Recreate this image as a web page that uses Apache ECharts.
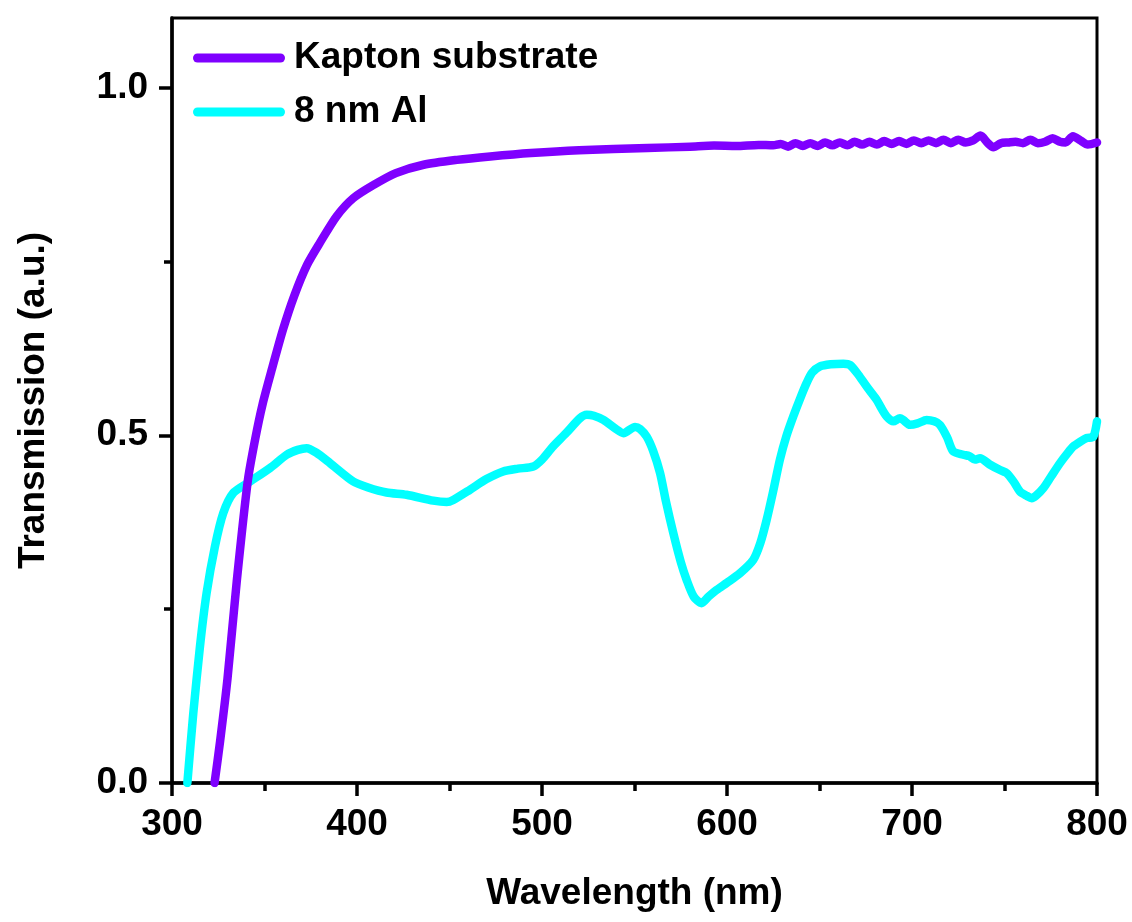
<!DOCTYPE html>
<html>
<head>
<meta charset="utf-8">
<title>Transmission spectra</title>
<script src="https://cdn.jsdelivr.net/npm/echarts@6/dist/echarts.min.js"></script>
<style>
  html, body { margin: 0; padding: 0; background: #ffffff; }
  #chart { width: 1132px; height: 922px; }
</style>
</head>
<body>
<div id="chart"></div>
<script>
// Bare Kapton film: wavelength (nm) and transmission (a.u.)
const kaptonNm = [323, 326, 330, 335, 341, 345, 349, 354, 360, 366, 373, 380, 389, 398, 409, 421, 436, 454, 472, 494, 520, 557, 580, 593, 605, 617, 625,
  629, 633, 637, 641, 645, 649, 653, 657, 661, 665, 669, 673, 677, 681, 685, 689, 693, 697, 701, 705, 709, 713, 717, 721, 725, 729,
  733, 737, 741, 744, 748, 752, 756, 760, 764, 768, 772, 776, 780, 783, 787, 791, 795, 800];
const kaptonT = [0, 0.06, 0.15, 0.29, 0.435, 0.495, 0.545, 0.595, 0.652, 0.70, 0.745, 0.777, 0.815, 0.841, 0.860, 0.877, 0.889, 0.896, 0.901, 0.906, 0.910, 0.913, 0.915, 0.9165, 0.9160, 0.9175, 0.917,
  0.919, 0.915, 0.920, 0.916, 0.920, 0.916, 0.921, 0.917, 0.921, 0.917, 0.922, 0.918, 0.922, 0.918, 0.923, 0.919, 0.923, 0.919, 0.924, 0.920, 0.924, 0.920, 0.925, 0.920, 0.925, 0.921,
  0.924, 0.931, 0.920, 0.914, 0.920, 0.921, 0.922, 0.920, 0.925, 0.920, 0.922, 0.927, 0.922, 0.921, 0.930, 0.924, 0.918, 0.921];

// Kapton coated with 8 nm aluminium
const alNm = [308.3, 311.5, 315.1, 318.7, 323.2, 327.7, 333.1, 342.2, 353, 362, 368, 372.8, 378, 385.4, 398, 406, 416, 426.8, 441.2, 448.5,
  452, 461, 470, 479, 487, 495.3, 500, 506, 513, 520.5, 524.2, 528, 533.2, 540, 544, 550.3, 553, 556.6, 560, 563.8,
  567, 571, 575, 578.2, 582, 586.2, 590, 594.4, 600, 607, 614.2, 618, 621.4, 625, 628.6, 632, 635.8, 640, 643, 646,
  650.3, 656, 662.9, 666.5, 671, 675.5, 680.9, 683, 686.3, 689.9, 693.5, 695.3, 698.9, 703, 707.9, 712, 715.1, 719, 722.3, 727.7,
  731, 734, 736.8, 742, 747.6, 751.2, 755, 758.4, 762, 764.7, 767, 771, 775, 780, 784, 787.2, 791, 794.4, 798, 800];
const alT = [0, 0.10, 0.196, 0.273, 0.340, 0.388, 0.417, 0.4335, 0.453, 0.472, 0.479, 0.4815, 0.475, 0.460, 0.4335, 0.425, 0.4177, 0.4144, 0.406, 0.404,
  0.407, 0.4216, 0.437, 0.448, 0.452, 0.455, 0.465, 0.484, 0.503, 0.5245, 0.5295, 0.528, 0.522, 0.509, 0.503, 0.512, 0.509, 0.498, 0.478, 0.446,
  0.405, 0.359, 0.318, 0.292, 0.268, 0.2586, 0.268, 0.2777, 0.288, 0.3017, 0.321, 0.345, 0.378, 0.42, 0.465, 0.498, 0.527, 0.556, 0.575, 0.590,
  0.599, 0.602, 0.603, 0.601, 0.587, 0.570, 0.551, 0.541, 0.527, 0.520, 0.5245, 0.522, 0.515, 0.517, 0.522, 0.520, 0.515, 0.497, 0.4767, 0.472,
  0.470, 0.465, 0.467, 0.458, 0.450, 0.4456, 0.433, 0.419, 0.413, 0.4096, 0.413, 0.424, 0.440, 0.460, 0.474, 0.484, 0.491, 0.496, 0.498, 0.52];

const seriesNames = ['Kapton substrate', '8 nm Al'];
const seriesColors = ['#7f00ff', '#00ffff'];
const yMajorTicks = [0, 0.5, 1.0];
const yMinorTicks = [0.25, 0.75];

const FONT = '"Liberation Sans", Arial, Helvetica, sans-serif';

function pairs(xs, ys) { return xs.map((x, i) => [x, ys[i]]); }

const chart = echarts.init(document.getElementById('chart'), null, { renderer: 'canvas' });

const axisText = { fontFamily: FONT, fontWeight: 'bold', fontSize: 37, color: '#000' };

chart.setOption({
  backgroundColor: '#ffffff',
  animation: false,
  grid: {
    left: 172, right: 35, top: 18, bottom: 139,
    show: true, borderColor: '#000', borderWidth: 3, backgroundColor: 'transparent'
  },
  legend: {
    orient: 'vertical',
    left: 188, top: 32,
    itemWidth: 92, itemHeight: 9, itemGap: 12,
    icon: 'path://M4.5,0 H87.5 A4.5,4.5 0 0 1 87.5,9 H4.5 A4.5,4.5 0 0 1 4.5,0 Z',
    textStyle: { fontFamily: FONT, fontWeight: 'bold', fontSize: 37, lineHeight: 42, color: '#000', padding: [0, 0, 0, 4] },
    data: seriesNames
  },
  xAxis: {
    type: 'value', min: 300, max: 800, interval: 100,
    name: 'Wavelength (nm)', nameLocation: 'middle', nameGap: 92,
    nameTextStyle: axisText,
    axisLine: { onZero: false, lineStyle: { color: '#000', width: 3.5 } },
    axisTick: { inside: false, length: 13, lineStyle: { color: '#000', width: 3.5 } },
    minorTick: { show: true, splitNumber: 2, length: 8, lineStyle: { color: '#000', width: 3.5 } },
    axisLabel: Object.assign({ margin: 23 }, axisText),
    splitLine: { show: false }
  },
  yAxis: [{
    type: 'value', min: 0, max: 1.1,
    name: 'Transmission (a.u.)', nameLocation: 'middle', nameGap: 120,
    nameTextStyle: axisText,
    axisLine: { onZero: false, lineStyle: { color: '#000', width: 3.5 } },
    axisTick: { customValues: yMajorTicks, length: 13, lineStyle: { color: '#000', width: 3.5 } },
    axisLabel: Object.assign({ customValues: yMajorTicks, margin: 24, formatter: v => v.toFixed(1) }, axisText),
    splitLine: { show: false }
  }, {
    // short minor ticks on the left spine
    type: 'value', min: 0, max: 1.1, position: 'left',
    axisLine: { show: false },
    axisTick: { customValues: yMinorTicks, length: 8, lineStyle: { color: '#000', width: 3.5 } },
    axisLabel: { show: false },
    splitLine: { show: false }
  }],
  series: [
    {
      name: seriesNames[0], type: 'line', data: pairs(kaptonNm, kaptonT),
      showSymbol: false, smooth: 0.25, z: 3,
      lineStyle: { color: seriesColors[0], width: 8.5, cap: 'round', join: 'round' },
      itemStyle: { color: seriesColors[0] }
    },
    {
      name: seriesNames[1], type: 'line', data: pairs(alNm, alT),
      showSymbol: false, smooth: 0.25, z: 2,
      lineStyle: { color: seriesColors[1], width: 8.5, cap: 'round', join: 'round' },
      itemStyle: { color: seriesColors[1] }
    }
  ]
});
</script>
</body>
</html>
